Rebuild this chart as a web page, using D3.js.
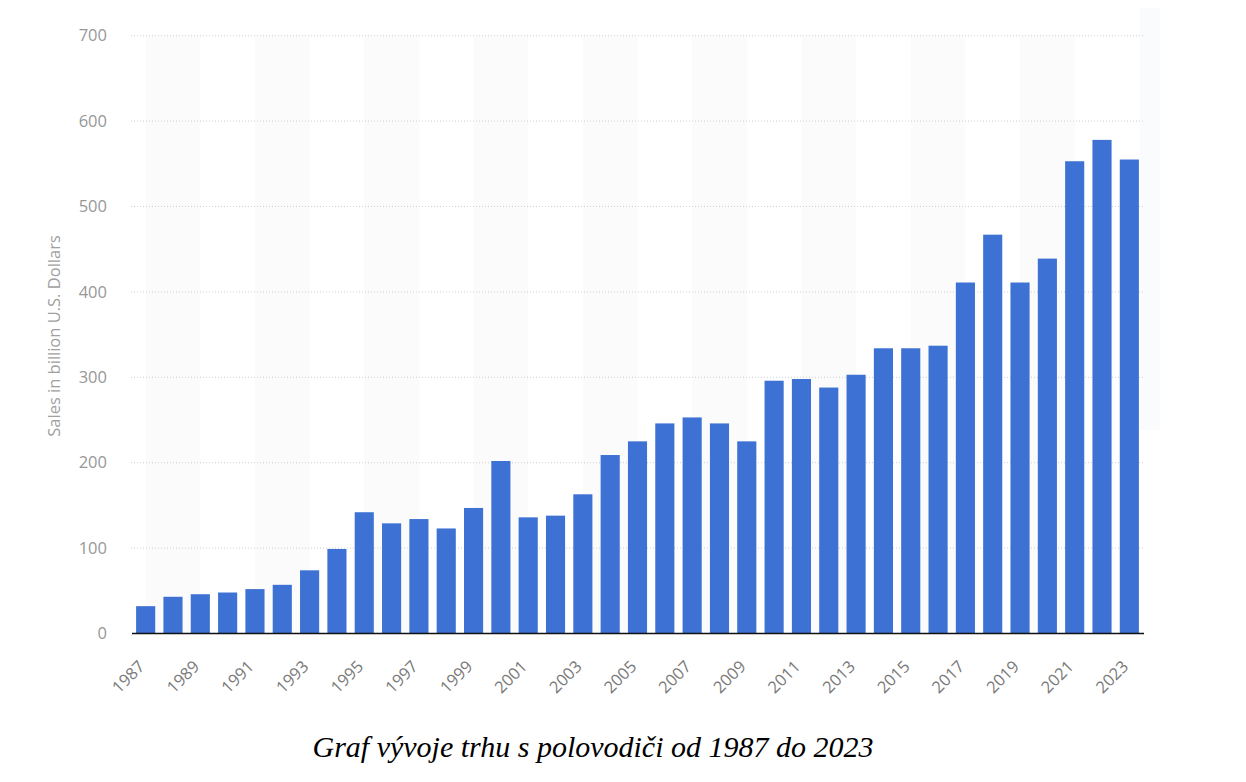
<!DOCTYPE html>
<html>
<head>
<meta charset="utf-8">
<script src="https://cdn.jsdelivr.net/npm/d3@7"></script>
<style>
  body { margin: 0; background: #fff; }
  .tick text { font-family: "Open Sans", sans-serif; }
</style>
</head>
<body>
<div id="canvas"></div>
<script>
// data (billion U.S. dollars)
const years = d3.range(1987, 2024);
const sales = [32, 43, 46, 48, 52, 57, 74, 99, 142, 129, 134, 123, 147, 202,
    136, 138, 163, 209, 225, 246, 253, 246, 225, 296, 298, 288, 303, 334,
    334, 337, 411, 467, 411, 439, 553, 578, 555];
const yTicks = [0, 100, 200, 300, 400, 500, 600, 700];
const xTickYears = years.filter(d => (d - 1987) % 2 === 0);
const bandStarts = [1987, 1991, 1995, 1999, 2003, 2007, 2011, 2015, 2019];
const yTitle = "Sales in billion U.S. Dollars";
const caption = "Graf vývoje trhu s polovodiči od 1987 do 2023";

const W = 1246, H = 782;
const margin = { Top: 35.7, Right: 103, Bottom: 148.5, Left: 132 };
const width = W - margin.Left - margin.Right;
const height = H - margin.Top - margin.Bottom;

const svg = d3.select('#canvas').append("svg")
    .attr("width", W)
    .attr("height", H);

// faint strip at the right edge of the picture
svg.append("rect")
    .attr("x", 1140).attr("y", 8)
    .attr("width", 20).attr("height", 422)
    .attr("fill", "#fafbfc");

const g = svg.append("g")
    .attr("transform", `translate(${margin.Left}, ${margin.Top})`);

const x = d3.scaleBand()
    .domain(years)
    .range([0, width])
    .paddingInner(0.3)
    .paddingOuter(0.15);

const y = d3.scaleLinear()
    .domain([0, 700])
    .range([height, 0]);

const half = x.bandwidth() / 2;

// alternating bands, tick centre to tick centre
g.selectAll("rect.band")
    .data(bandStarts)
    .enter().append("rect")
    .attr("class", "band")
    .attr("x", d => x(d) + half)
    .attr("y", 0)
    .attr("width", d => x(d + 2) - x(d))
    .attr("height", height)
    .attr("fill", "#fbfbfb");

// grid lines
g.selectAll("line.grid")
    .data(yTicks.filter(d => d > 0))
    .enter().append("line")
    .attr("class", "grid")
    .attr("x1", -1).attr("x2", width)
    .attr("y1", d => y(d)).attr("y2", d => y(d))
    .attr("stroke", "#cfcfcf")
    .attr("stroke-width", 1)
    .attr("stroke-dasharray", "1,2");

// bars
g.selectAll("rect.bar")
    .data(years)
    .enter().append("rect")
    .attr("class", "bar")
    .attr("x", d => x(d))
    .attr("y", (d, i) => y(sales[i]))
    .attr("width", x.bandwidth())
    .attr("height", (d, i) => height - y(sales[i]))
    .attr("fill", "#3d72d4");

// y axis
const yAxisGroup = g.append("g")
    .call(d3.axisLeft(y).tickValues(yTicks).tickSize(0).tickPadding(25));
yAxisGroup.select(".domain").remove();
yAxisGroup.selectAll("text")
    .attr("fill", "#979797")
    .style("font-size", "16.5px");

// x axis
const xAxisGroup = g.append("g")
    .attr("transform", `translate(0, ${height})`)
    .call(d3.axisBottom(x).tickValues(xTickYears).tickSize(0));
xAxisGroup.select(".domain").remove();
xAxisGroup.selectAll("text")
    .attr("fill", "#7a7a7a")
    .style("font-size", "16.5px")
    .attr("text-anchor", "end")
    .attr("y", 0)
    .attr("dy", "0.35em")
    .attr("transform", "translate(-4, 30) rotate(-45)");

// baseline
g.append("line")
    .attr("x1", 0).attr("x2", width + 1)
    .attr("y1", height).attr("y2", height)
    .attr("stroke", "#111")
    .attr("stroke-width", 1.6);

// axis title
svg.append("text")
    .attr("transform", `translate(60, 336) rotate(-90)`)
    .attr("text-anchor", "middle")
    .attr("fill", "#a0a0a0")
    .style("font-family", "'Open Sans', sans-serif")
    .style("font-size", "16.5px")
    .text(yTitle);

// caption
svg.append("text")
    .attr("x", 593)
    .attr("y", 757)
    .attr("text-anchor", "middle")
    .attr("fill", "#000")
    .style("font-family", "'Liberation Serif', 'Times New Roman', serif")
    .style("font-style", "italic")
    .style("font-size", "30px")
    .text(caption);
</script>
</body>
</html>
